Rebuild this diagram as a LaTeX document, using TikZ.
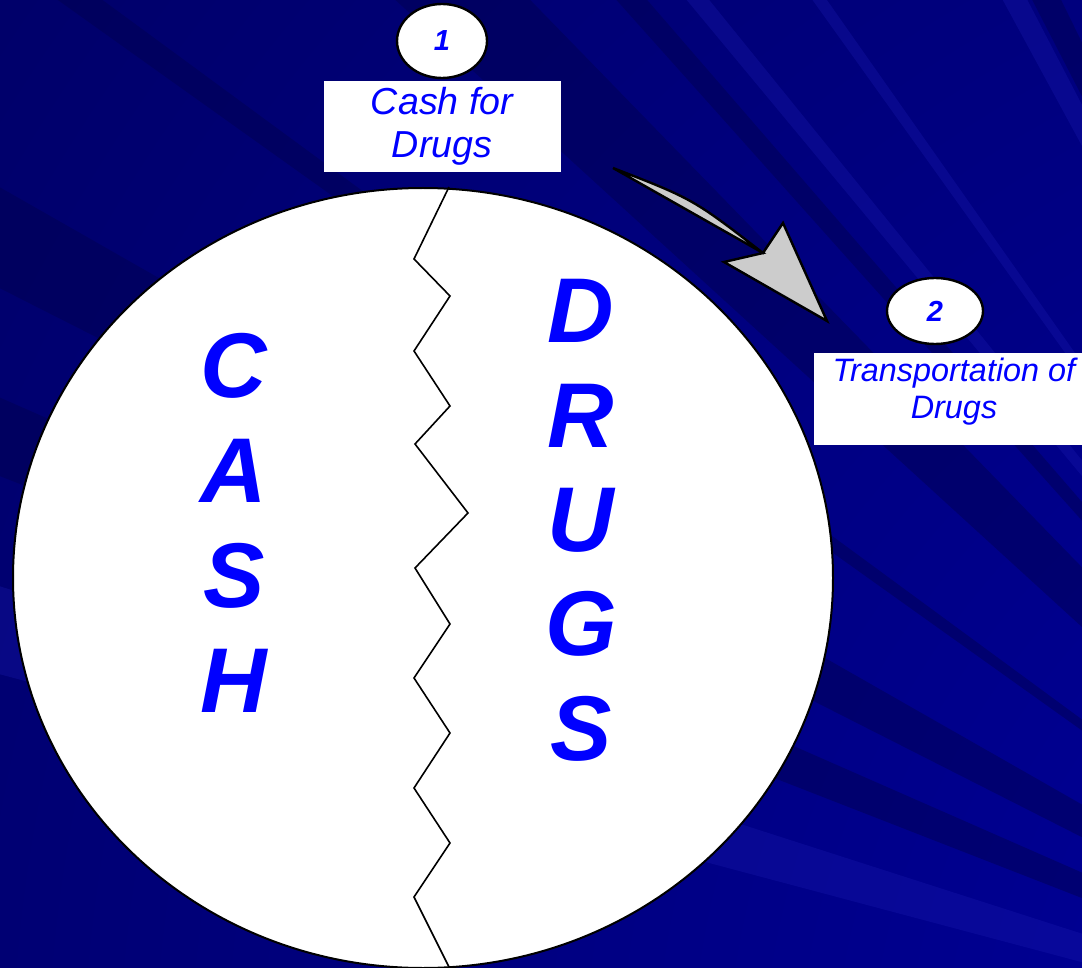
\documentclass[tikz,border=0pt]{standalone}
\usepackage{fontspec}
\setmainfont{Liberation Sans}
\usepackage{tikz}
\usetikzlibrary{shapes, arrows.meta, positioning}
\definecolor{navydeep}{RGB}{0,0,104}
\definecolor{navyglow}{RGB}{0,0,160}
\definecolor{streakdark}{RGB}{0,0,78}
\definecolor{streaklight}{RGB}{28,28,178}
\definecolor{letterblue}{RGB}{0,0,255}

\begin{document}
\begin{tikzpicture}
  [
    x=0.5pt, y=-0.5pt,
    Disc/.style={ellipse, draw=black, fill=white, line width=1pt, inner sep=0pt, minimum width=410pt, minimum height=390pt},
    Badge/.style={ellipse, draw=black, fill=white, line width=1.2pt, inner sep=0pt, text=letterblue, font=\fontsize{14.5}{17}\selectfont\bfseries\itshape},
    Label/.style={rectangle, fill=white, inner sep=0pt, align=center, text=letterblue},
    Letter/.style={anchor=base, inner sep=0pt, text=letterblue, font=\fontsize{46}{50}\selectfont\bfseries\itshape},
    Crack/.style={draw=black, line width=0.8pt, line join=miter},
    Bend/.style={draw=black, fill=gray!40, line width=1.2pt, line join=miter}
  ]
  % Background
  \useasboundingbox (0,0) rectangle (1082,968);
  \clip (0,0) rectangle (1082,968);
  \fill[navydeep] (0,0) rectangle (1082,968);
  \coordinate (glow) at (1600,1100);
  \shade[inner color=navyglow, outer color=navydeep] (glow) circle [radius=2000];
  \foreach \a/\b in {201.3/203.7, 206.9/209.7, 215.5/216.3, 222.4/225.8, 228.2/229.1, 242.7/243.9}
    \fill[streakdark, opacity=0.45] (glow) -- +(\a:2600) -- +(\b:2600) -- cycle;
  \foreach \a/\b in {194.9/197.8, 230.3/231.0, 234.4/234.9, 241.5/242.5}
    \fill[streaklight, opacity=0.3] (glow) -- +(\a:2600) -- +(\b:2600) -- cycle;
  % Nodes
  \node[Disc] (disc) at (423,578) {};
  \foreach \ch [count=\i] in {C,A,S,H}
    \node[Letter] (cash\i) at (234, {397+105*(\i-1)}) {\ch};
  \foreach \ch [count=\i] in {D,R,U,G,S}
    \node[Letter] (drugs\i) at (581, {343+104.3*(\i-1)}) {\ch};
  \node[Badge, minimum width=45pt, minimum height=37pt] (one) at (442,41) {1};
  \node[Label, below=0.5pt of one, minimum width=118.5pt, minimum height=45.5pt,
    font=\fontsize{18.8}{21.5}\selectfont\itshape] (cashbox) {Cash for\\Drugs};
  \node[Badge, minimum width=48pt, minimum height=33pt] (two) at (935,311) {2};
  \node[Label, below=3.5pt of two, xshift=9.5pt, minimum width=140pt, minimum height=46pt,
    font=\fontsize{16.2}{18.5}\selectfont\itshape] (tripbox) {Transportation of\\Drugs\rule[-10.4pt]{0pt}{0pt}};
  % Lines
  \draw[Crack] (449,187) -- (414,259) -- (450,296) -- (414,351) -- (450,406) -- (415,444)
    -- (468,513) -- (415,568) -- (450,624) -- (414,678) -- (450,733) -- (414,788)
    -- (450,843) -- (414,897) -- (449,967);
  \coordinate (tail) at (613,168);
  \coordinate (bow) at (693,199);
  \coordinate (neck) at (763,253);
  \coordinate (barbup) at (783,223);
  \coordinate (tip) at (827,321);
  \coordinate (barblow) at (724,262);
  \path[Bend] (tail) .. controls (bow) .. (neck) -- (barbup) -- (tip) -- (barblow) -- (neck) -- cycle;
\end{tikzpicture}
\end{document}
